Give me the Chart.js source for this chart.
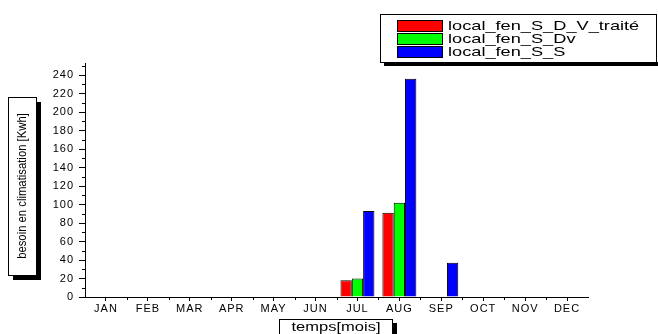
<!DOCTYPE html>
<html>
<head>
<meta charset="utf-8">
<script src="https://cdn.jsdelivr.net/npm/chart.js@4/dist/chart.umd.min.js"></script>
<style>
  html, body { margin: 0; padding: 0; background: #fff; }
  #c { display: block; }
</style>
</head>
<body>
<canvas id="c" width="658" height="334"></canvas>
<script>
// ---- data ----
const months = ['JAN','FEB','MAR','APR','MAY','JUN','JUL','AUG','SEP','OCT','NOV','DEC'];
const seriesNames = ['local_fen_S_D_V_traité', 'local_fen_S_Dv', 'local_fen_S_S'];
const valuesTraite = [0, 0, 0, 0, 0, 0, 18, 91, 0, 0, 0, 0];
const valuesDv     = [0, 0, 0, 0, 0, 0, 20, 102, 0, 0, 0, 0];
const valuesSS     = [0, 0, 0, 0, 0, 0, 93, 236, 37, 0, 0, 0];
const yMax = 253;
const yStep = 20;
const yMinorStep = 10;
const xTitle = 'temps[mois]';
const yTitle = 'besoin en climatisation [Kwh]';
const seriesColors = ['#ff0000', '#00ff00', '#0000ff'];

const FONT = "'Liberation Sans', Arial, Helvetica, sans-serif";

const spacingPlugin = {
  id: 'spacing',
  beforeDraw(chart) { chart.ctx.letterSpacing = '1px'; }
};

const decorPlugin = {
  id: 'decor',
  afterDraw(chart) {
    const ctx = chart.ctx;
    const ca = chart.chartArea;
    const xs = chart.scales.x, ys = chart.scales.y;
    ctx.save();
    ctx.letterSpacing = '0px';
    ctx.strokeStyle = '#000';
    ctx.lineWidth = 1;
    // minor y ticks
    ctx.beginPath();
    for (let v = yMinorStep; v <= ys.max; v += yStep) {
      const y = Math.round(ys.getPixelForValue(v)) + 0.5;
      ctx.moveTo(ca.left - 3, y); ctx.lineTo(ca.left, y);
    }
    // minor x ticks at category boundaries
    for (let i = 1; i < months.length; i++) {
      const x = Math.round((xs.getPixelForValue(i - 1) + xs.getPixelForValue(i)) / 2) + 0.5;
      ctx.moveTo(x, ca.bottom); ctx.lineTo(x, ca.bottom + 3);
    }
    ctx.stroke();

    // ---- legend box ----
    const lx = 380, ly = 14, lw = 276, lh = 48;
    ctx.fillStyle = '#000';
    ctx.fillRect(lx + 4, ly + lh, lw, 4);
    ctx.fillStyle = '#fff';
    ctx.fillRect(lx, ly, lw, lh);
    ctx.strokeRect(lx + 0.5, ly + 0.5, lw, lh);
    const rowPitch = 13.3;
    chart.data.datasets.forEach((ds, i) => {
      const cy = ly + 11.5 + i * rowPitch;
      ctx.fillStyle = ds.backgroundColor;
      ctx.fillRect(397, Math.round(cy - 6), 46, 12);
      ctx.strokeStyle = '#000';
      ctx.strokeRect(397.5, Math.round(cy - 6) + 0.5, 45, 11);
      ctx.save();
      ctx.translate(448, cy + 0.5);
      ctx.scale(1.4, 1);
      ctx.fillStyle = '#000';
      ctx.font = '13px ' + FONT;
      ctx.textBaseline = 'middle';
      ctx.textAlign = 'left';
      ctx.fillText(ds.label, 0, 0);
      ctx.restore();
    });

    // ---- x title box ----
    const bx = 279, by = 319, bw = 113, bh = 30;
    ctx.fillStyle = '#000';
    ctx.fillRect(bx + bw, by + 4, 5, bh);
    ctx.fillStyle = '#fff';
    ctx.fillRect(bx, by, bw, bh);
    ctx.strokeStyle = '#000';
    ctx.strokeRect(bx + 0.5, by + 0.5, bw, bh);
    ctx.save();
    ctx.translate(bx + bw / 2 + 0.5, 327);
    ctx.scale(1.27, 1);
    ctx.fillStyle = '#000';
    ctx.font = '13px ' + FONT;
    ctx.textAlign = 'center';
    ctx.textBaseline = 'middle';
    ctx.fillText(xTitle, 0, 0);
    ctx.restore();

    // ---- y title box ----
    const tx = 8, ty = 97, tw = 28, th = 178;
    ctx.fillStyle = '#000';
    ctx.fillRect(tx + tw, ty + 5, 5, th);
    ctx.fillRect(tx + 5, ty + th, tw, 5);
    ctx.fillStyle = '#fff';
    ctx.fillRect(tx, ty, tw, th);
    ctx.strokeStyle = '#000';
    ctx.strokeRect(tx + 0.5, ty + 0.5, tw, th);
    ctx.save();
    ctx.translate(tx + tw / 2 + 0.5, ty + th / 2);
    ctx.rotate(-Math.PI / 2);
    ctx.scale(1, 1.15);
    ctx.fillStyle = '#000';
    ctx.font = '11.3px ' + FONT;
    ctx.textAlign = 'center';
    ctx.textBaseline = 'middle';
    ctx.fillText(yTitle, 0, 0);
    ctx.restore();

    ctx.restore();
  }
};

const values = [valuesTraite, valuesDv, valuesSS];

new Chart(document.getElementById('c'), {
  type: 'bar',
  data: {
    labels: months,
    datasets: seriesNames.map((name, i) => ({
      label: name,
      data: values[i],
      backgroundColor: seriesColors[i],
      borderColor: '#000',
      borderWidth: 1,
      borderSkipped: 'bottom',
      categoryPercentage: 0.81,
      barPercentage: 1.0
    }))
  },
  options: {
    responsive: false,
    animation: false,
    devicePixelRatio: 1,
    layout: { padding: { left: 45, right: 70, top: 63, bottom: 0 } },
    plugins: { legend: { display: false }, tooltip: { enabled: false } },
    scales: {
      x: {
        type: 'category',
        offset: true,
        grid: { display: true, drawOnChartArea: false, drawTicks: true, tickLength: 4, offset: false, color: '#000', tickColor: '#000' },
        border: { display: true, color: '#000', width: 1 },
        ticks: { color: '#000', font: { family: FONT, size: 11 }, padding: 1, maxRotation: 0, autoSkip: false },
        afterFit(scale) { scale.height = 37; }
      },
      y: {
        min: 0,
        max: yMax,
        grid: { display: true, drawOnChartArea: false, drawTicks: true, tickLength: 6, color: '#000', tickColor: '#000' },
        border: { display: true, color: '#000', width: 1 },
        ticks: { stepSize: yStep, includeBounds: false, color: '#000', font: { family: FONT, size: 11 }, padding: 5 },
        afterFit(scale) { scale.width = 40; }
      }
    }
  },
  plugins: [spacingPlugin, decorPlugin]
});
</script>
</body>
</html>
